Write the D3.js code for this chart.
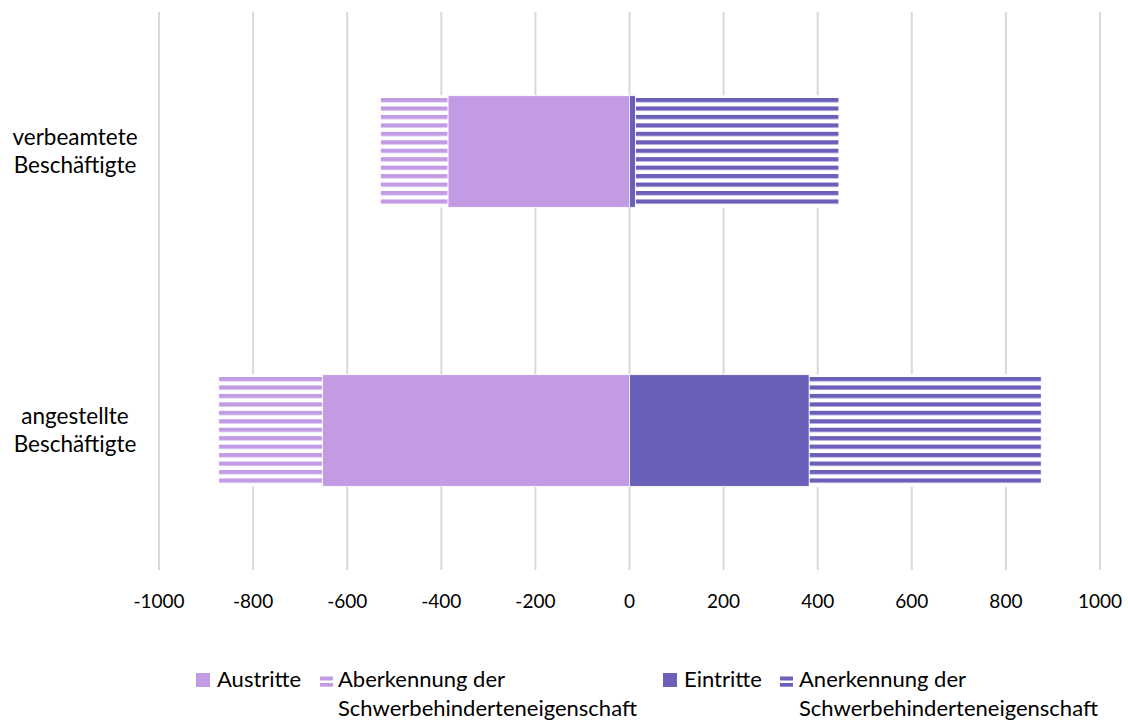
<!DOCTYPE html>
<html><head><meta charset="utf-8">
<script src="https://cdn.jsdelivr.net/npm/d3@7"></script>
<style>
body{margin:0;background:#fff;}
svg text{font-family:Lato,"Open Sans",sans-serif;fill:#000;}
</style></head>
<body><svg id="c" width="1128" height="722"></svg>
<script>
const categories = [["verbeamtete","Beschäftigte"],["angestellte","Beschäftigte"]];
const austritte = [-386, -653];
const aberkennung = [-143, -220];
const eintritte = [13, 382];
const anerkennung = [432, 493];
const tickValues = [-1000,-800,-600,-400,-200,0,200,400,600,800,1000];
const seriesNames = ["Austritte","Aberkennung der Schwerbehinderteneigenschaft","Eintritte","Anerkennung der Schwerbehinderteneigenschaft"];
const colors = {light:"#C39BE5", dark:"#6A5FB9"};
const seriesStyle = [
  {key:"austritte", color:colors.light, striped:false},
  {key:"aberkennung", color:colors.light, striped:true},
  {key:"eintritte", color:colors.dark, striped:false},
  {key:"anerkennung", color:colors.dark, striped:true}
];

const rows = categories.map((c,i)=>({i, austritte:austritte[i], aberkennung:aberkennung[i], eintritte:eintritte[i], anerkennung:anerkennung[i]}));
const keys = seriesStyle.map(s=>s.key);
const stacked = d3.stack().keys(keys).offset(d3.stackOffsetDiverging)(rows);

const svg = d3.select("#c");
const x = d3.scaleLinear().domain([-1000,1000]).range([159,1100]);
const y = d3.scaleBand().domain(d3.range(categories.length)).range([12,570]).paddingInner(0.6).paddingOuter(0.3);

// gridlines
svg.append("g").selectAll("line").data(tickValues).join("line")
  .attr("x1",d=>x(d)).attr("x2",d=>x(d)).attr("y1",12).attr("y2",570)
  .attr("stroke","#d9d9d9").attr("stroke-width",2);

const defs = svg.append("defs");
const bw = y.bandwidth();
const period = bw/13.2;
function patId(si,ci){return `p${si}_${ci}`;}
seriesStyle.forEach((s,si)=>{
  if(!s.striped) return;
  categories.forEach((c,ci)=>{
    const p = defs.append("pattern").attr("id",patId(si,ci))
      .attr("patternUnits","userSpaceOnUse").attr("x",0).attr("y",y(ci)+period*0.27)
      .attr("width",10).attr("height",period);
    p.append("rect").attr("width",10).attr("height",period).attr("fill","#fff");
    p.append("rect").attr("width",10).attr("height",period*0.5).attr("fill",s.color);
  });
});

svg.append("g").selectAll("g").data(stacked).join("g")
  .each(function(ser,si){
    const s = seriesStyle[si];
    d3.select(this).selectAll("rect").data(ser).join("rect")
      .attr("x",d=>x(Math.min(d[0],d[1])))
      .attr("width",d=>Math.abs(x(d[1])-x(d[0])))
      .attr("y",(d,ci)=>y(ci)).attr("height",bw)
      .attr("fill",(d,ci)=>s.striped?`url(#${patId(si,ci)})`:s.color)
      .attr("stroke","#fff").attr("stroke-width",0.75);
  });

// x axis labels
svg.append("g").selectAll("text").data(tickValues).join("text")
  .attr("x",d=>x(d)).attr("y",608).attr("text-anchor","middle")
  .attr("font-size",19).text(d=>d);

// category labels
categories.forEach((c,ci)=>{
  const cy = y(ci)+bw/2;
  const t = svg.append("text").attr("text-anchor","middle").attr("font-size",22.5);
  c.forEach((line,li)=>{
    t.append("tspan").attr("x",75).attr("y",cy-6.5+li*28).text(line);
  });
});

// legend
const leg = [
  {x:196, tx:217, name:["Austritte"], si:0},
  {x:320, tx:338, name:["Aberkennung der","Schwerbehinderteneigenschaft"], si:1},
  {x:663, tx:684, name:["Eintritte"], si:2},
  {x:780, tx:799, name:["Anerkennung der","Schwerbehinderteneigenschaft"], si:3}
];
const lg = svg.append("g");
leg.forEach(l=>{
  const s = seriesStyle[l.si];
  if(s.striped){
    lg.append("rect").attr("x",l.x).attr("y",676.5).attr("width",13).attr("height",4).attr("fill",s.color);
    lg.append("rect").attr("x",l.x).attr("y",683).attr("width",13).attr("height",3.7).attr("fill",s.color);
  } else {
    lg.append("rect").attr("x",l.x).attr("y",673).attr("width",14).attr("height",14).attr("fill",s.color);
  }
  const t = lg.append("text").attr("font-size",22);
  l.name.forEach((n,li)=>t.append("tspan").attr("x",l.tx).attr("y",687+li*29).text(n));
});
</script></body></html>
